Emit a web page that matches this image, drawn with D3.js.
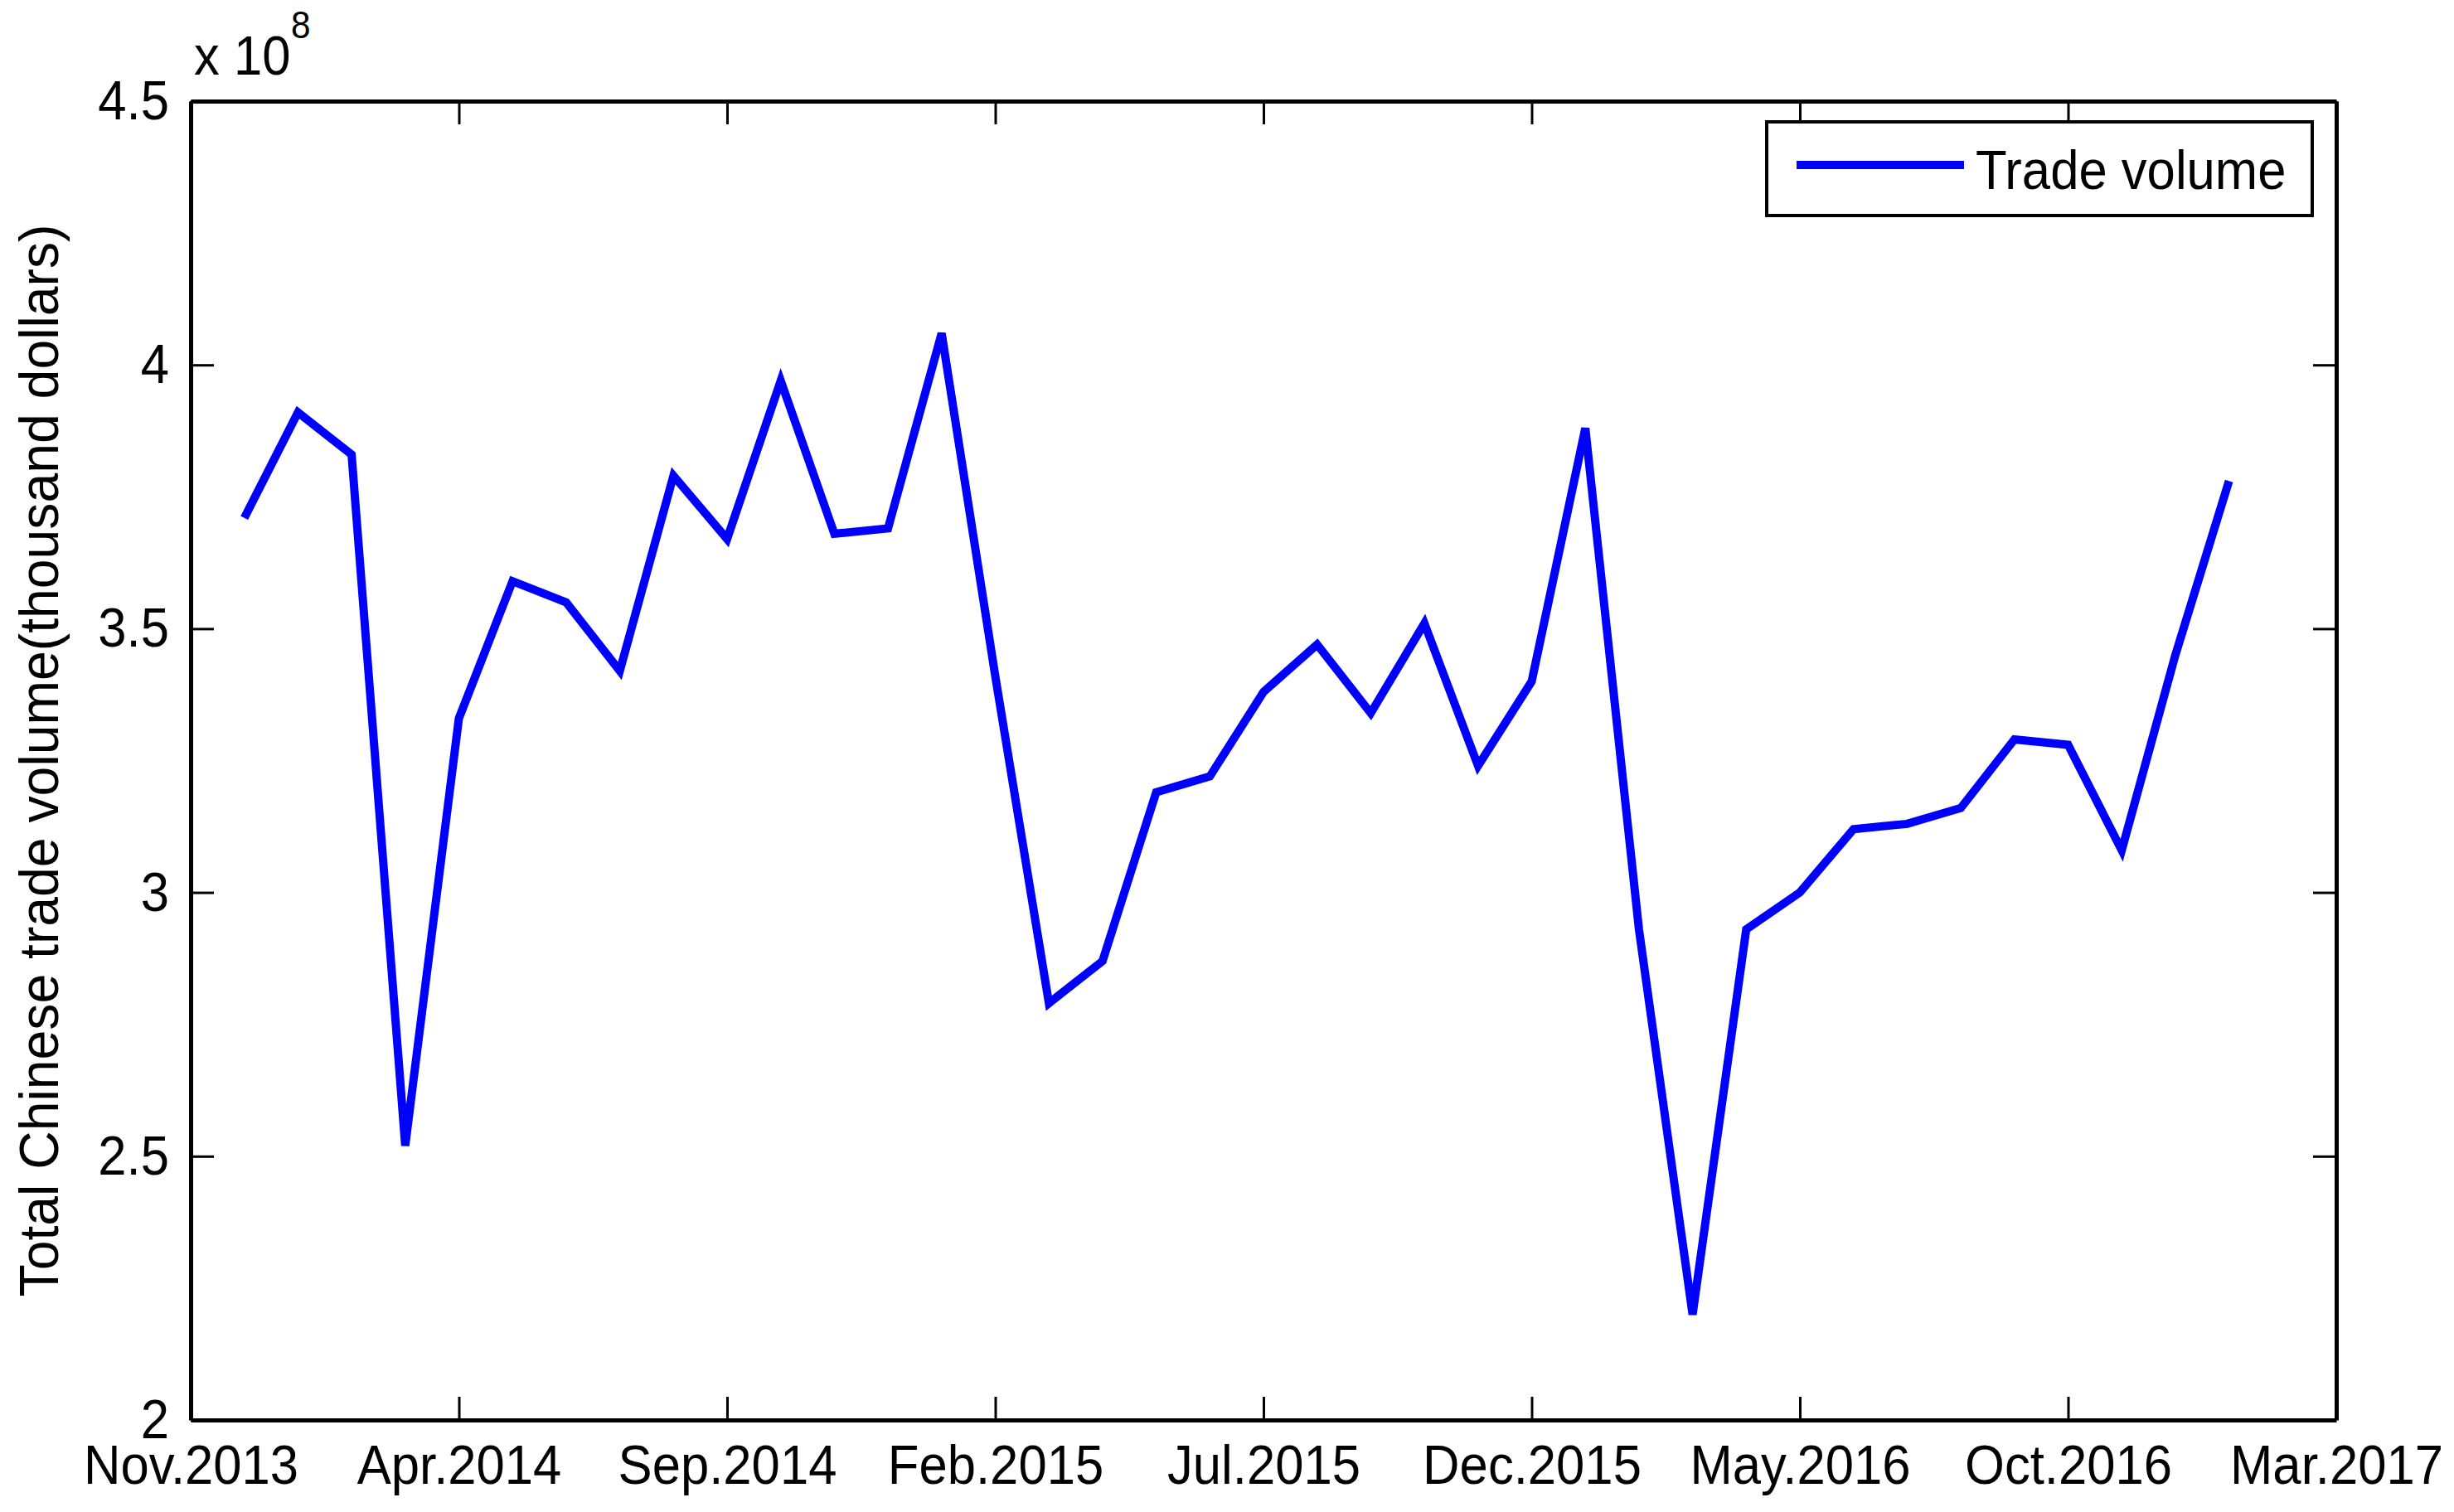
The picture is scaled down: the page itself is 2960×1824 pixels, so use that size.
<!DOCTYPE html>
<html lang="en">
<head>
    <meta charset="UTF-8">
    <script src="https://d3js.org/d3.v7.min.js"></script>
    <style>
        body {
            margin: 0;
            background: #fff;
        }
        svg text {
            font-family: "Liberation Sans", Arial, sans-serif;
            fill: #000;
        }
        .axis path, .axis line {
            stroke: #000;
        }
    </style>
</head>
<body>
    <svg id="chart"></svg>

    <script>
        // months shown on the x axis, Nov.2013 = index 0
        const tickLabels = ["Nov.2013", "Apr.2014", "Sep.2014", "Feb.2015", "Jul.2015",
                            "Dec.2015", "May.2016", "Oct.2016", "Mar.2017"];
        const tickMonths = [0, 5, 10, 15, 20, 25, 30, 35, 40];

        // one point per month, Dec.2013 .. Jan.2017
        const months = ["Dec.2013", "Jan.2014", "Feb.2014", "Mar.2014", "Apr.2014", "May.2014",
                        "Jun.2014", "Jul.2014", "Aug.2014", "Sep.2014", "Oct.2014", "Nov.2014",
                        "Dec.2014", "Jan.2015", "Feb.2015", "Mar.2015", "Apr.2015", "May.2015",
                        "Jun.2015", "Jul.2015", "Aug.2015", "Sep.2015", "Oct.2015", "Nov.2015",
                        "Dec.2015", "Jan.2016", "Feb.2016", "Mar.2016", "Apr.2016", "May.2016",
                        "Jun.2016", "Jul.2016", "Aug.2016", "Sep.2016", "Oct.2016", "Nov.2016",
                        "Dec.2016", "Jan.2017"];

        // trade volume, x 10^8 thousand dollars
        const tradeVolume = [3.71, 3.91, 3.83, 2.52, 3.33, 3.59,
                             3.55, 3.42, 3.79, 3.67, 3.97, 3.68,
                             3.69, 4.06, 3.41, 2.79, 2.87, 3.19,
                             3.22, 3.38, 3.47, 3.34, 3.51, 3.24,
                             3.40, 3.88, 2.93, 2.20, 2.93, 3.00,
                             3.12, 3.13, 3.16, 3.29, 3.28, 3.08,
                             3.45, 3.78];

        const yTicks = [2, 2.5, 3, 3.5, 4, 4.5];

        const width = 2960, height = 1824;
        const margin = { top: 122, right: 142, bottom: 111, left: 230 };
        const fontSize = 67;
        const squeeze = 0.92; // the original font is a bit condensed

        const svg = d3.select("#chart")
            .attr("width", width)
            .attr("height", height);

        // month index counted from Nov.2013
        const data = months.map((m, i) => ({ month: m, idx: i + 1, value: tradeVolume[i] }));

        const x = d3.scaleLinear()
            .domain([0, 40])
            .range([margin.left, width - margin.right]);

        const y = d3.scaleLinear()
            .domain([2, 4.5])
            .range([height - margin.bottom, margin.top]);

        const tickLen = 28;

        // bottom axis with labels
        const gx = svg.append("g")
            .attr("class", "axis")
            .attr("transform", `translate(0,${height - margin.bottom})`)
            .call(d3.axisBottom(x)
                .tickValues(tickMonths)
                .tickFormat((d, i) => tickLabels[i])
                .tickSizeInner(-tickLen)
                .tickSizeOuter(0)
                .tickPadding(29));

        // top axis, ticks only
        svg.append("g")
            .attr("class", "axis")
            .attr("transform", `translate(0,${margin.top})`)
            .call(d3.axisTop(x)
                .tickValues(tickMonths)
                .tickFormat("")
                .tickSizeInner(-tickLen)
                .tickSizeOuter(0));

        // left axis with labels
        const gy = svg.append("g")
            .attr("class", "axis")
            .attr("transform", `translate(${margin.left},0)`)
            .call(d3.axisLeft(y)
                .tickValues(yTicks)
                .tickFormat(d3.format("~g"))
                .tickSizeInner(-tickLen)
                .tickSizeOuter(0)
                .tickPadding(26));

        // right axis, ticks only
        svg.append("g")
            .attr("class", "axis")
            .attr("transform", `translate(${width - margin.right},0)`)
            .call(d3.axisRight(y)
                .tickValues(yTicks)
                .tickFormat("")
                .tickSizeInner(-tickLen)
                .tickSizeOuter(0));

        svg.selectAll(".axis path").attr("stroke-width", 5);
        svg.selectAll(".axis line").attr("stroke-width", 3);
        svg.selectAll(".axis text")
            .attr("font-size", fontSize)
            .style("font-family", '"Liberation Sans", Arial, sans-serif');

        gx.selectAll("text")
            .attr("transform", `scale(${squeeze},1)`);
        gy.selectAll("text")
            .attr("x", -26 / squeeze)
            .attr("transform", `scale(${squeeze},1)`);

        // exponent label
        svg.append("text")
            .attr("x", 234)
            .attr("y", 90)
            .attr("font-size", fontSize)
            .attr("transform", `translate(${234 * (1 - squeeze)},0) scale(${squeeze},1)`)
            .text("x 10");
        svg.append("text")
            .attr("x", 351)
            .attr("y", 46)
            .attr("font-size", 46)
            .attr("transform", `translate(${351 * (1 - squeeze)},0) scale(${squeeze},1)`)
            .text("8");

        // y label
        svg.append("text")
            .attr("transform", `translate(70,${(margin.top + height - margin.bottom) / 2}) rotate(-90) scale(0.96,1)`)
            .attr("text-anchor", "middle")
            .attr("font-size", fontSize)
            .text("Total Chinese trade volume(thousand dollars)");

        // the line
        const line = d3.line()
            .x(d => x(d.idx))
            .y(d => y(d.value));

        svg.append("path")
            .datum(data)
            .attr("fill", "none")
            .attr("stroke", "#0000ff")
            .attr("stroke-width", 10)
            .attr("stroke-linejoin", "miter")
            .attr("d", line);

        // legend
        const legend = svg.append("g")
            .attr("transform", "translate(2131,147)");

        legend.append("rect")
            .attr("width", 658)
            .attr("height", 113)
            .attr("fill", "#fff")
            .attr("stroke", "#000")
            .attr("stroke-width", 4);

        legend.append("line")
            .attr("x1", 36)
            .attr("x2", 238)
            .attr("y1", 52)
            .attr("y2", 52)
            .attr("stroke", "#0000ff")
            .attr("stroke-width", 10);

        legend.append("text")
            .attr("x", 252)
            .attr("y", 81)
            .attr("font-size", fontSize)
            .attr("transform", `translate(${252 * (1 - squeeze)},0) scale(${squeeze},1)`)
            .text("Trade volume");
    </script>
</body>
</html>
